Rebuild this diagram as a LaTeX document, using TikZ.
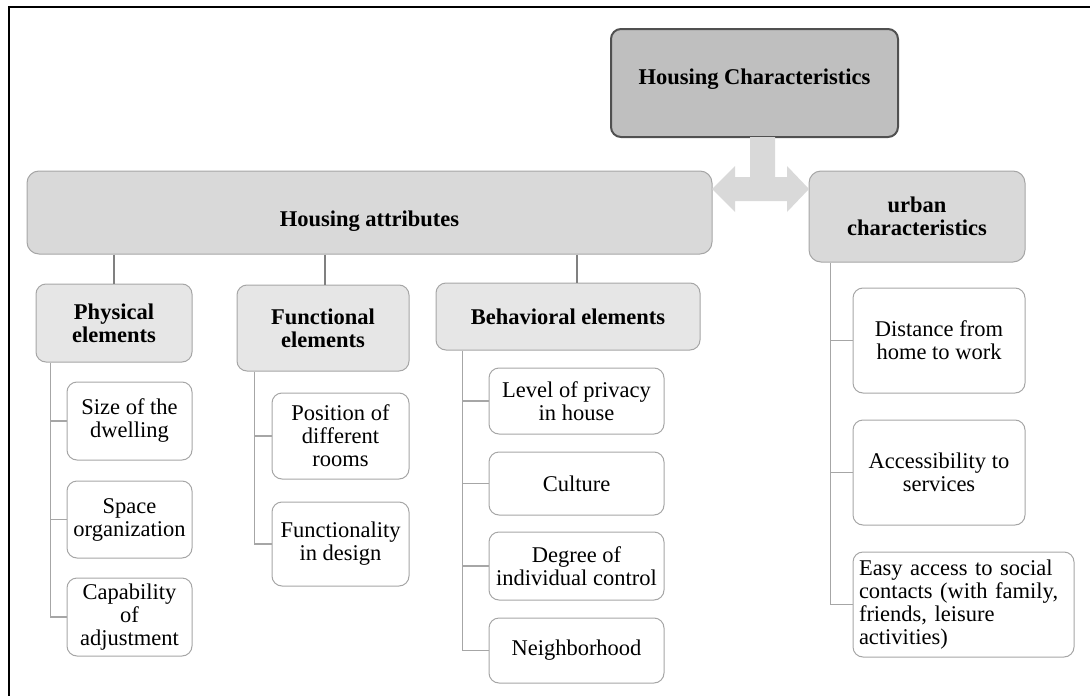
\documentclass[tikz,border=0pt]{standalone}
\usepackage{fontspec}
\setmainfont{Liberation Serif}
\usetikzlibrary{calc}

\definecolor{topfill}{HTML}{BFBFBF}
\definecolor{topedge}{HTML}{505050}
\definecolor{midfill}{HTML}{D9D9D9}
\definecolor{subfill}{HTML}{E6E6E6}
\definecolor{edge}{HTML}{A6A6A6}
\definecolor{linkgray}{HTML}{808080}
\definecolor{arrowgray}{HTML}{D9D9D9}

\tikzset{
  box/.style={rounded corners=10pt, draw=edge, line width=1pt, inner sep=0pt,
    align=center, font=\fontsize{22.5}{23}\selectfont},
  topbox/.style={box, fill=topfill, draw=topedge, line width=2pt,
    font=\fontsize{22.5}{23}\selectfont\bfseries},
  groupbox/.style={box, fill=midfill, rounded corners=12pt,
    font=\fontsize{22.5}{23}\selectfont\bfseries},
  catbox/.style={box, fill=subfill,
    font=\fontsize{22.5}{23}\selectfont\bfseries},
  leaf/.style={box, fill=white},
  trunk/.style={draw=linkgray, line width=1.8pt},
  branch/.style={draw=edge, line width=1.2pt},
}

\begin{document}
\begin{tikzpicture}[x=1pt, y=-1pt]
\useasboundingbox (0,0) rectangle (1090,696);

% outer frame (top and left edges)
\draw[line width=2pt] (1090,6.5) -- (8.5,6.5) -- (8.5,696);

% top level
\node[topbox, minimum width=287pt, minimum height=108pt] (hc) at (754.5,83)
  {\raisebox{4pt}[\height][\depth]{Housing Characteristics}};

% second level
\node[groupbox, minimum width=685pt, minimum height=83pt] (ha) at (369.5,212.5)
  {\raisebox{-9pt}[\height][\depth]{Housing attributes}};
\node[groupbox, minimum width=216pt, minimum height=91pt] (uc) at (917,216.5)
  {urban\\characteristics};

% double-headed block arrow joining the three upper boxes
\fill[arrowgray] (750,137) -- (775,137) -- (775,177) -- (787,177) -- (787,166)
  -- (809,189) -- (787,212) -- (787,201) -- (735,201) -- (735,212)
  -- (712,189) -- (735,166) -- (735,177) -- (750,177) -- cycle;

% attribute categories
\node[catbox, minimum width=156pt, minimum height=78pt] (pe) at (114,323)
  {Physical\\elements};
\node[catbox, minimum width=172pt, minimum height=86pt] (fe) at (323,328)
  {Functional\\elements};
\node[catbox, minimum width=264pt, minimum height=67pt] (be) at (568,316.5)
  {Behavioral elements};

\draw[trunk] (ha.south -| pe.north) -- (pe.north);
\coordinate (ft) at ($(fe.north)+(2,0)$);
\draw[trunk] (ha.south -| ft) -- (ft);
\coordinate (bt) at ($(be.north)+(9,0)$);
\draw[trunk] (ha.south -| bt) -- (bt);

% physical elements
\node[leaf, minimum width=125pt, minimum height=78pt] (p1) at (129.5,421)
  {Size of the\\dwelling};
\node[leaf, minimum width=125pt, minimum height=77pt] (p2) at (129.5,519.5)
  {Space\\organization};
\node[leaf, minimum width=125pt, minimum height=78pt] (p3) at (129.5,617)
  {Capability\\of\\adjustment};

% functional elements
\node[leaf, minimum width=137pt, minimum height=86pt] (f1) at (340.5,436)
  {Position of\\different\\rooms};
\node[leaf, minimum width=137pt, minimum height=84pt] (f2) at (340.5,544)
  {Functionality\\in design};

% behavioral elements
\node[leaf, minimum width=175pt, minimum height=66pt] (b1) at (576.5,401)
  {Level of privacy\\in house};
\node[leaf, minimum width=175pt, minimum height=63pt] (b2) at (576.5,483.5)
  {Culture};
\node[leaf, minimum width=175pt, minimum height=68pt] (b3) at (576.5,566)
  {Degree of\\individual control};
\node[leaf, minimum width=175pt, minimum height=65pt] (b4) at (576.5,650.5)
  {Neighborhood};

% urban characteristics
\node[leaf, minimum width=172pt, minimum height=105pt] (u1) at (939,340.5)
  {Distance from\\home to work};
\node[leaf, minimum width=172pt, minimum height=105pt] (u2) at (939,472.5)
  {Accessibility to\\services};
\node[leaf, minimum width=221pt, minimum height=105pt, text width=209pt,
  align=left] (u3) at (963.5,604.5)
  {Easy access to social\\contacts (with family,\\friends, leisure\\activities)};

% spines and branches
\coordinate (ps) at ($(pe.south west)+(15,0)$);
\draw[branch] (ps) |- (p3.west);
\draw[branch] (ps |- p1.west) -- (p1.west);
\draw[branch] (ps |- p2.west) -- (p2.west);

\coordinate (fs) at ($(fe.south west)+(18,0)$);
\draw[branch] (fs) |- (f2.west);
\draw[branch] (fs |- f1.west) -- (f1.west);

\coordinate (bs) at ($(be.south west)+(27,0)$);
\draw[branch] (bs) |- (b4.west);
\draw[branch] (bs |- b1.west) -- (b1.west);
\draw[branch] (bs |- b2.west) -- (b2.west);
\draw[branch] (bs |- b3.west) -- (b3.west);

\coordinate (us) at ($(uc.south west)+(22,0)$);
\draw[branch] (us) |- (u3.west);
\draw[branch] (us |- u1.west) -- (u1.west);
\draw[branch] (us |- u2.west) -- (u2.west);
\end{tikzpicture}
\end{document}
